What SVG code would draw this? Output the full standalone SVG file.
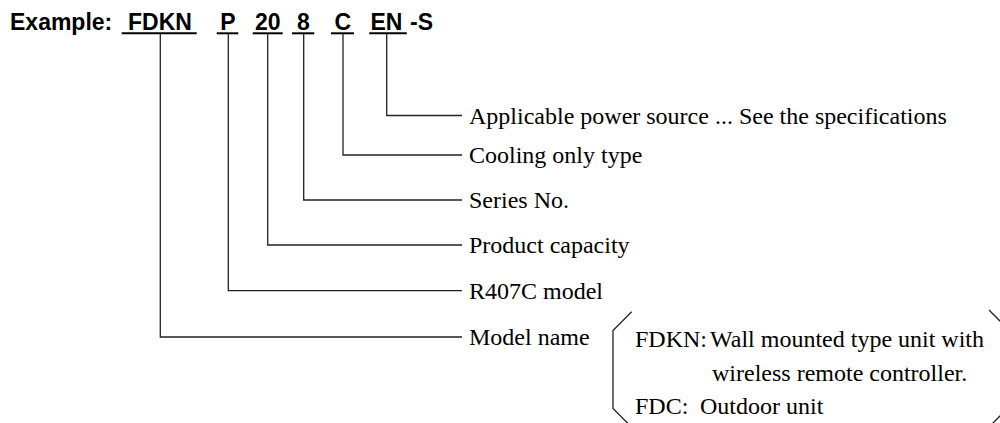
<svg xmlns="http://www.w3.org/2000/svg" width="1000" height="423" viewBox="0 0 1000 423">
<style>
.t{font-family:"Liberation Sans",Arial,sans-serif;font-weight:bold;font-size:23px;fill:#000}
.l{font-family:"Liberation Serif","Times New Roman",serif;font-size:24px;fill:#000}
.u{stroke:#000;stroke-width:2;fill:none}
.c{stroke:#222;stroke-width:1.3;fill:none}
</style>
<rect width="1000" height="423" fill="#fff"/>
<g id="title">
<text class="t" x="10" y="30">Example:</text>
<text class="t" x="128" y="30">FDKN</text>
<text class="t" x="220.3" y="30">P</text>
<text class="t" x="255" y="30">20</text>
<text class="t" x="297" y="30">8</text>
<text class="t" x="334.5" y="30">C</text>
<text class="t" x="370.5" y="30">EN</text>
<text class="t" x="410" y="30">-S</text>
<line class="u" x1="121.7" y1="33.3" x2="196.7" y2="33.3"/>
<line class="u" x1="216.7" y1="33.3" x2="238.3" y2="33.3"/>
<line class="u" x1="252.7" y1="33.3" x2="282.7" y2="33.3"/>
<line class="u" x1="292" y1="33.3" x2="314.3" y2="33.3"/>
<line class="u" x1="331" y1="33.3" x2="354" y2="33.3"/>
<line class="u" x1="369.3" y1="33.3" x2="406.7" y2="33.3"/>
</g>
<g id="connectors">
<polyline class="c" points="386.7,34 386.7,115.5 462,115.5"/>
<polyline class="c" points="343,34 343,155 462,155"/>
<polyline class="c" points="303.7,34 303.7,200 462,200"/>
<polyline class="c" points="267.7,34 267.7,245 462,245"/>
<polyline class="c" points="228.3,34 228.3,290.7 462,290.7"/>
<polyline class="c" points="160.3,34 160.3,337 462,337"/>
</g>
<g id="power"><text class="l" x="469" y="123.5">Applicable power source ... See the specifications</text></g>
<g id="cooling"><text class="l" x="469" y="163">Cooling only type</text></g>
<g id="series"><text class="l" x="469" y="208">Series No.</text></g>
<g id="capacity"><text class="l" x="469" y="253">Product capacity</text></g>
<g id="r407c"><text class="l" x="469" y="298.7">R407C model</text></g>
<g id="model"><text class="l" x="469" y="345">Model name</text></g>
<g id="bracket">
<polyline class="c" points="631.7,311.7 613,330.5 613,408.5 632,427.5"/>
<polyline class="c" points="989,310 1008,329 1008,408 989,427"/>
<text class="l" x="635" y="347">FDKN:</text>
<text class="l" x="710" y="347">Wall mounted type unit with</text>
<text class="l" x="712" y="381">wireless remote controller.</text>
<text class="l" x="635" y="414">FDC:</text>
<text class="l" x="700" y="414">Outdoor unit</text>
</g>
</svg>
